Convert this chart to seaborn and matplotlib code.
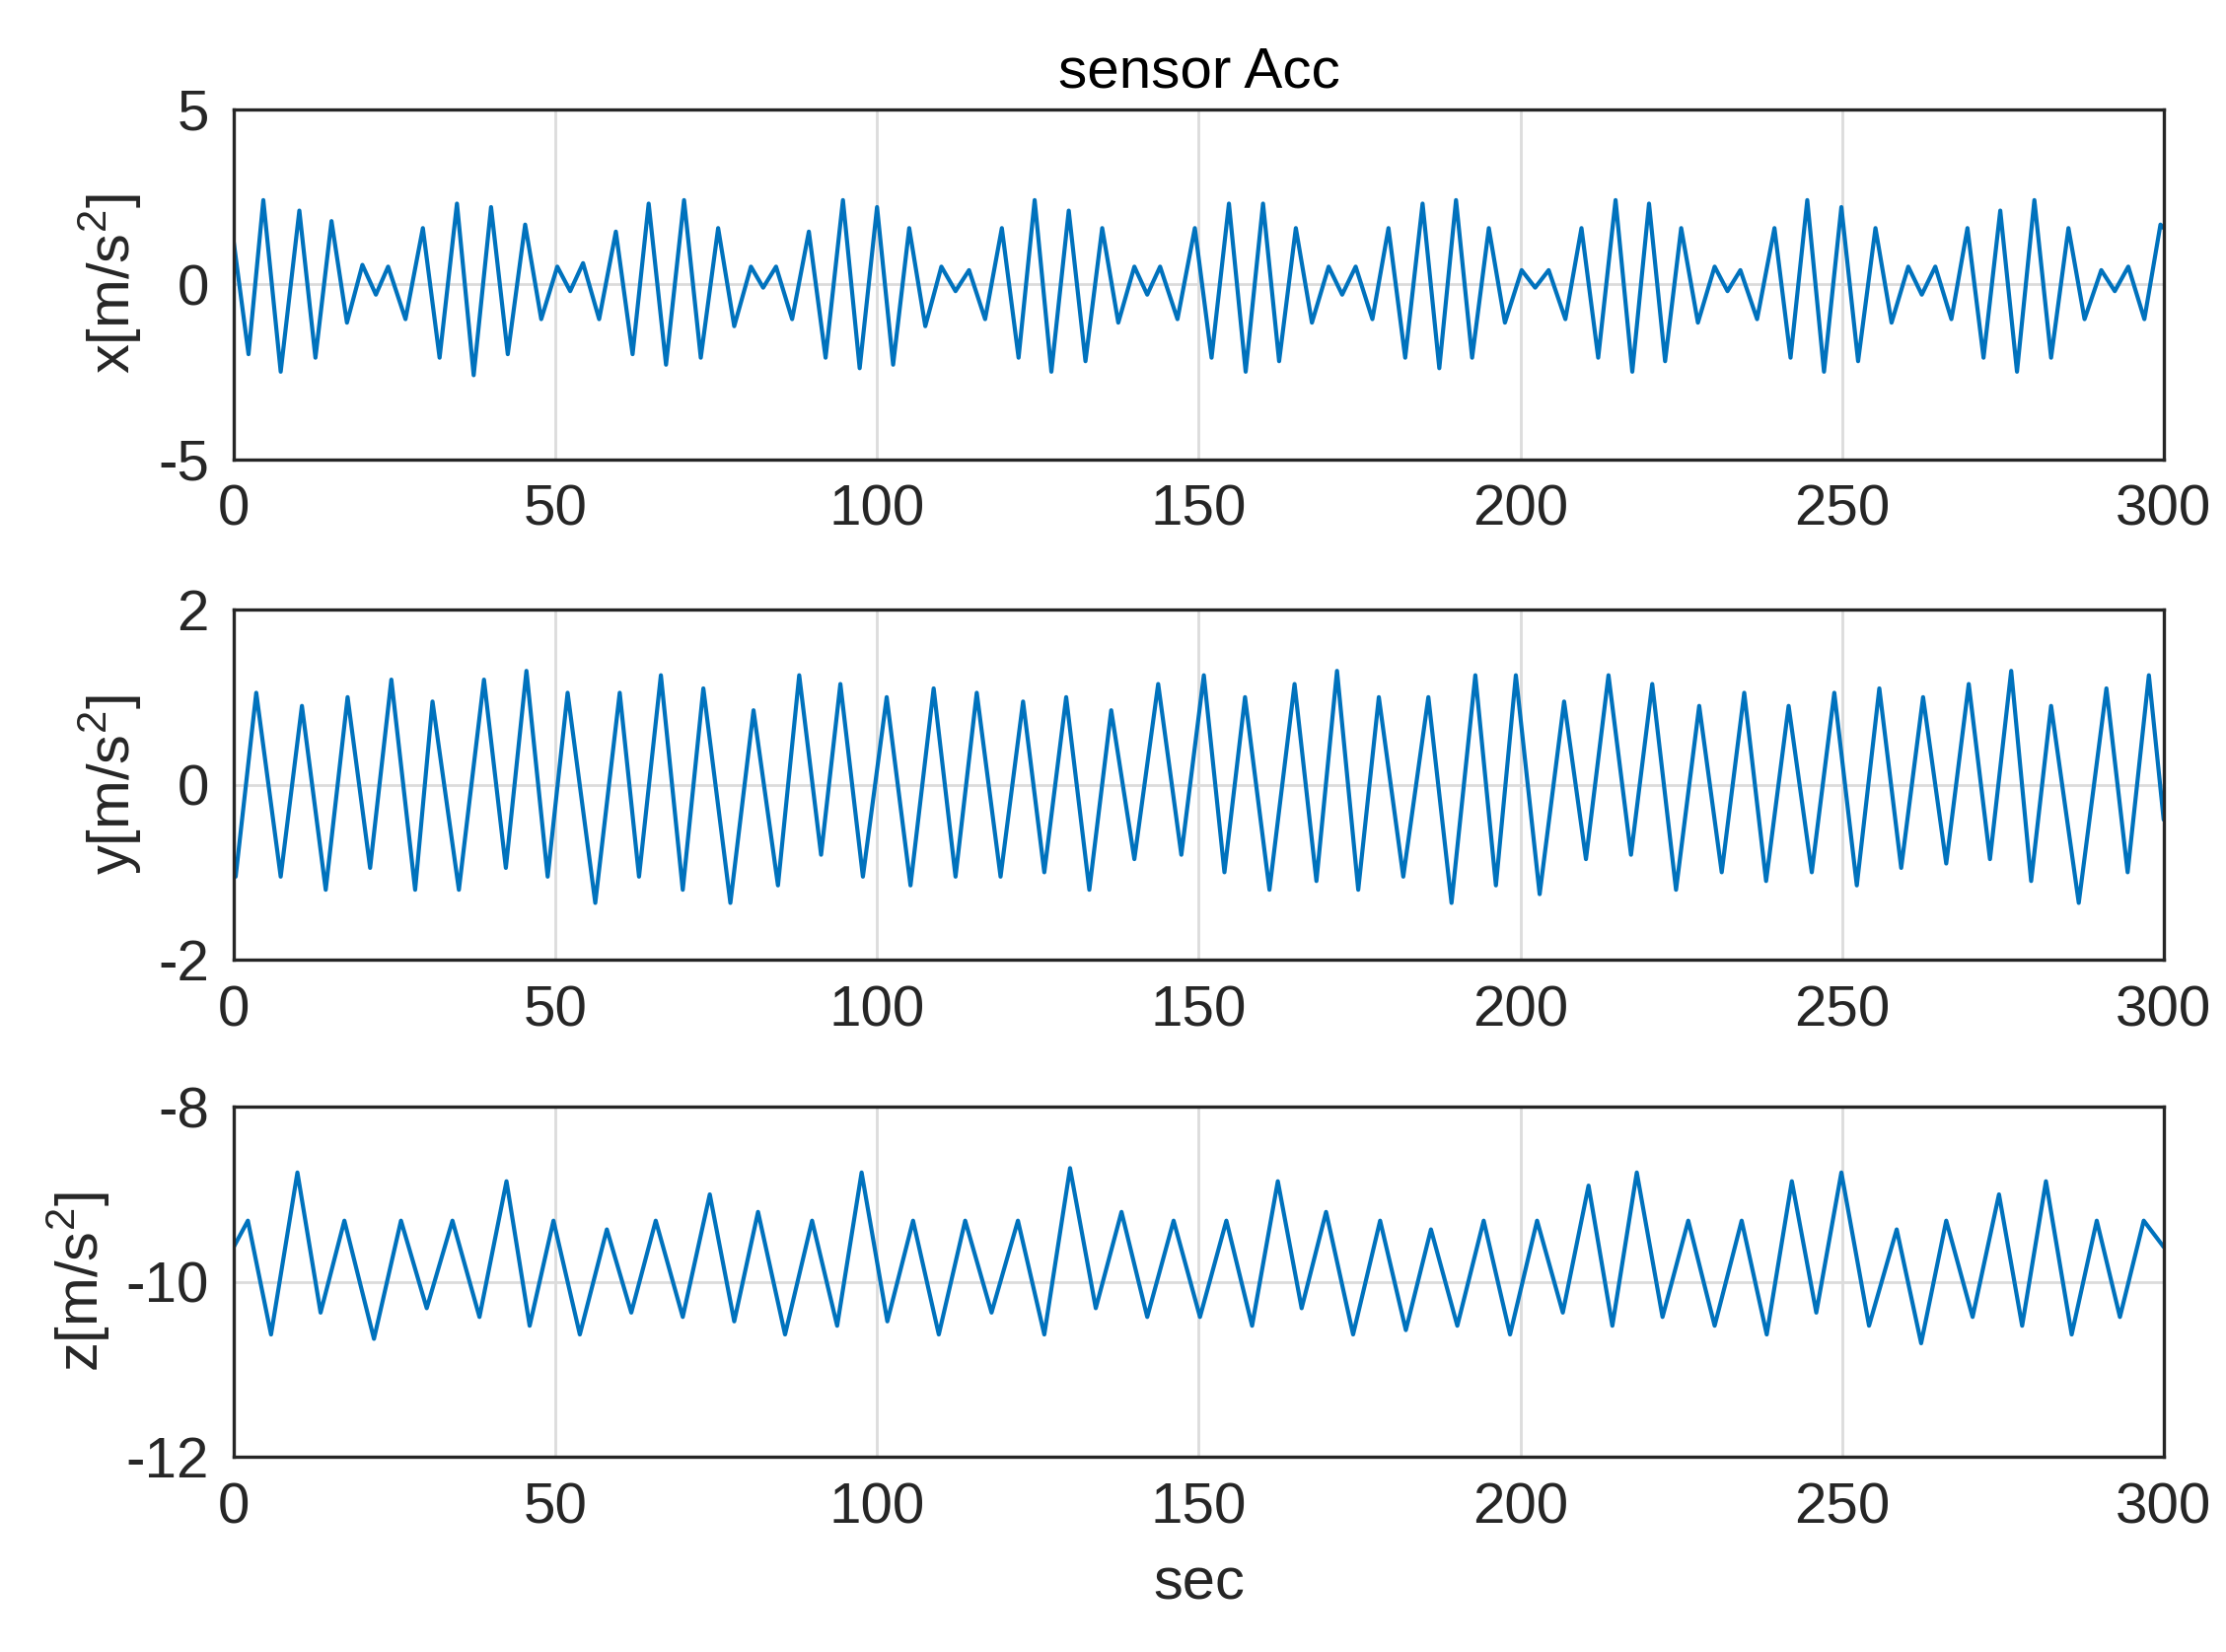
import matplotlib
matplotlib.use("Agg")
import matplotlib.pyplot as plt
import seaborn as sns
import pandas as pd

# x-axis: extrema (time, value)
x_peak_t = [0, 4.6,10.2,15.2,20,24,29.4, 34.7,40,45.3,50.3,54.3,59.4, 64.5,70,75.3,80.4,84.3,89.4,
            94.7,100,105,110,114.3,119.4, 124.5,129.8,135,140,144,149.4, 154.7,160,165.1,170.2,174.4,179.5,
            184.8,190,195.1,200.2,204.4,209.5, 214.8,220,225,230.2,234.2,239.5, 244.6,249.9,255.2,260.3,264.5,269.5,
            274.6,279.9,285.2,290.3,294.5,299.5, 300]
x_peak_v = [1.2, 2.4,2.1,1.8,0.55,0.5,1.6, 2.3,2.2,1.7,0.5,0.6,1.5, 2.3,2.4,1.6,0.5,0.5,1.5,
            2.4,2.2,1.6,0.5,0.4,1.6, 2.4,2.1,1.6,0.5,0.5,1.6, 2.3,2.3,1.6,0.5,0.5,1.6,
            2.3,2.4,1.6,0.4,0.4,1.6, 2.4,2.3,1.6,0.5,0.4,1.6, 2.4,2.2,1.6,0.5,0.5,1.6,
            2.1,2.4,1.6,0.4,0.5,1.7, 1.6]
x_trough_t = [2.3,7.3,12.7,17.6,22.1,26.7, 32,37.3,42.6,47.8,52.3,56.8, 62,67.2,72.6,77.8,82.3,86.8,
              92,97.3,102.5,107.5,112.2,116.8, 122,127.1,132.4,137.5,142,146.7, 152,157.3,162.5,167.6,172.3,177,
              182.1,187.4,192.5,197.6,202.3,207, 212.1,217.4,222.5,227.6,232.2,236.8, 242,247.2,252.5,257.7,262.4,267,
              272,277.2,282.5,287.7,292.4,297]
x_trough_v = [-2.0,-2.5,-2.1,-1.1,-0.3,-1.0, -2.1,-2.6,-2.0,-1.0,-0.2,-1.0, -2.0,-2.3,-2.1,-1.2,-0.1,-1.0,
              -2.1,-2.4,-2.3,-1.2,-0.2,-1.0, -2.1,-2.5,-2.2,-1.1,-0.3,-1.0, -2.1,-2.5,-2.2,-1.1,-0.3,-1.0,
              -2.1,-2.4,-2.1,-1.1,-0.1,-1.0, -2.1,-2.5,-2.2,-1.1,-0.2,-1.0, -2.1,-2.5,-2.2,-1.1,-0.3,-1.0,
              -2.1,-2.5,-2.1,-1.0,-0.2,-1.0]

y_peak_t = [3.5,10.6,17.7,24.5,30.9,38.9,45.5,51.9,60,66.4,73,80.8,87.9,94.3,101.5,108.8,115.5,122.7,129.4,
            136.4,143.7,150.8,157.2,164.9,171.5,178,185.7,193,199.3,206.8,213.7,220.5,227.8,234.8,241.7,248.8,
            255.8,262.6,269.7,276.3,282.5,291.1,297.7]
y_peak_v = [1.05,0.9,1.0,1.2,0.95,1.2,1.3,1.05,1.05,1.25,1.1,0.85,1.25,1.15,1.0,1.1,1.05,0.95,1.0,
            0.85,1.15,1.25,1.0,1.15,1.3,1.0,1.0,1.25,1.25,0.95,1.25,1.15,0.9,1.05,0.9,1.05,
            1.1,1.0,1.15,1.3,0.9,1.1,1.25]
y_trough_t = [0.3,7.3,14.3,21.2,28.2,35.0,42.3,48.8,56.2,63.0,69.8,77.2,84.6,91.3,97.8,105.2,112.2,119.2,126.0,
              133.0,140.0,147.3,154.0,161.0,168.3,174.8,181.8,189.3,196.2,203.0,210.2,217.2,224.2,231.3,238.2,
              245.3,252.3,259.2,266.2,273.0,279.4,286.8,294.4,300]
y_trough_v = [-1.05,-1.05,-1.2,-0.95,-1.2,-1.2,-0.95,-1.05,-1.35,-1.05,-1.2,-1.35,-1.15,-0.8,-1.05,-1.15,-1.05,
              -1.05,-1.0,-1.2,-0.85,-0.8,-1.0,-1.2,-1.1,-1.2,-1.05,-1.35,-1.15,-1.25,-0.85,-0.8,-1.2,-1.0,-1.1,
              -1.0,-1.15,-0.95,-0.9,-0.85,-1.1,-1.35,-1.0,-0.4]

z_peak_t = [0,2.2,9.9,17.2,26,34,42.4,49.7,58,65.6,74,81.5,89.9,97.6,105.6,113.7,121.9,130,138,146.1,154.3,
            162.3,169.8,178.2,186.1,194.3,202.6,210.6,218.1,226.1,234.4,242.2,249.9,258.5,266.2,274.4,281.7,
            289.6,296.9,300]
z_peak_v = [-9.6,-9.3,-8.75,-9.3,-9.3,-9.3,-8.85,-9.3,-9.4,-9.3,-9.0,-9.2,-9.3,-8.75,-9.3,-9.3,-9.3,-8.7,
            -9.2,-9.3,-9.3,-8.85,-9.2,-9.3,-9.4,-9.3,-9.3,-8.9,-8.75,-9.3,-9.3,-8.85,-8.75,-9.4,-9.3,-9.0,-8.85,
            -9.3,-9.3,-9.6]
z_trough_t = [5.8,13.5,21.8,30.0,38.2,46.0,53.8,61.8,69.8,77.8,85.7,93.8,101.6,109.6,117.8,126.0,134.0,
              142.0,150.2,158.3,166.0,174.0,182.2,190.2,198.4,206.6,214.3,222.1,230.2,238.3,246.0,254.2,262.3,
              270.3,278.0,285.7,293.2]
z_trough_v = [-10.6,-10.35,-10.65,-10.3,-10.4,-10.5,-10.6,-10.35,-10.4,-10.45,-10.6,-10.5,-10.45,-10.6,-10.35,
              -10.6,-10.3,-10.4,-10.4,-10.5,-10.3,-10.6,-10.55,-10.5,-10.6,-10.35,-10.5,-10.4,-10.5,-10.6,-10.35,
              -10.5,-10.7,-10.4,-10.5,-10.6,-10.4]

def frame(pt, pv, tt, tv):
    df = pd.DataFrame({"t": list(pt) + list(tt), "v": list(pv) + list(tv)})
    return df.sort_values("t").reset_index(drop=True)

sns.set_theme(style="white")
plt.rcParams["font.family"] = ["Liberation Sans", "DejaVu Sans"]
plt.rcParams["mathtext.fontset"] = "custom"
plt.rcParams["mathtext.rm"] = "Liberation Sans"
plt.rcParams["axes.unicode_minus"] = False

fig = plt.figure(figsize=(22.57, 16.75), dpi=100)
panels = [
    (frame(x_peak_t, x_peak_v, x_trough_t, x_trough_v), (-5, 5), [-5, 0, 5], "x[m/s$^2$]", 0.722),
    (frame(y_peak_t, y_peak_v, y_trough_t, y_trough_v), (-2, 2), [-2, 0, 2], "y[m/s$^2$]", 0.419),
    (frame(z_peak_t, z_peak_v, z_trough_t, z_trough_v), (-12, -8), [-12, -10, -8], "z[m/s$^2$]", 0.118),
]
for i, (df, ylim, yt, lab, bot) in enumerate(panels):
    ax = fig.add_axes([0.105, bot, 0.867, 0.212])
    sns.lineplot(data=df, x="t", y="v", ax=ax, color="#0072BD", linewidth=3.0, estimator=None, sort=False)
    ax.set_xlim(0, 300)
    ax.set_ylim(*ylim)
    ax.set_yticks(yt)
    ax.set_xticks([0, 50, 100, 150, 200, 250, 300])
    ax.grid(True, color="#DCDCDC", linewidth=2)
    ax.set_axisbelow(True)
    for s in ax.spines.values():
        s.set_color("#262626")
        s.set_linewidth(2.4)
    ax.tick_params(direction="in", length=10, width=2, labelsize=42, colors="#262626", pad=18)
    ax.set_ylabel(lab, fontsize=43, color="#262626", labelpad=10)
    ax.set_xlabel("sec" if i == 2 else "", fontsize=43, color="#262626", labelpad=16)
    if i == 0:
        ax.set_title("sensor Acc", fontsize=42, color="black", pad=16)

fig.savefig("out.png", dpi=100)
